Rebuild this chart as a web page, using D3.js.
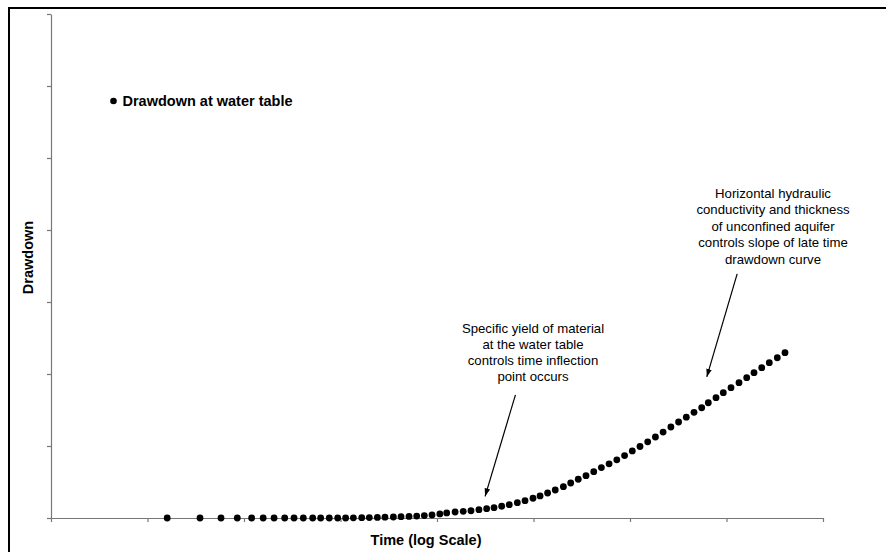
<!DOCTYPE html>
<html>
<head>
<meta charset="utf-8">
<script src="https://cdn.jsdelivr.net/npm/d3@7"></script>
<style>
  html, body { margin: 0; padding: 0; background: #fff; }
  svg { display: block; font-family: "Liberation Sans", Arial, sans-serif; }
</style>
</head>
<body>
<svg id="chart" width="886" height="552"></svg>
<script>
// ---- data ----
const seriesName = "Drawdown at water table";
const time = [16, 35, 57.8, 85.2, 120, 158, 205, 264, 330, 412,
  515, 623, 765, 935, 1130, 1360, 1660, 1990, 2410, 2890,
  3530, 4240, 5130, 6160, 7390, 8880, 10700, 12600, 15400, 18700,
  22500, 27200, 32700, 39000, 46800, 56100, 68000, 81700, 98800, 117000,
  140000, 168000, 204000, 243000, 291000, 350000, 421000, 505000, 607000, 730000,
  879000, 1.056e6, 1.269e6, 1.526e6, 1.834e6, 2.203e6, 2.653e6, 3.188e6, 3.832e6, 4.605e6,
  5.534e6, 6.477e6, 7.785e6, 9.264e6, 1.113e7, 1.348e7, 1.620e7, 1.928e7, 2.317e7, 2.776e7,
  3.360e7, 4.038e7];
const drawdown = [0, 0, 0, 0, 0, 0, 0, 0, 0, 0,
  0, 0, 0, 0, 0, 0.003, 0.004, 0.006, 0.008, 0.011,
  0.014, 0.018, 0.022, 0.027, 0.033, 0.042, 0.056, 0.070, 0.083, 0.093,
  0.101, 0.115, 0.129, 0.143, 0.163, 0.185, 0.213, 0.240, 0.274, 0.306,
  0.347, 0.389, 0.435, 0.486, 0.538, 0.588, 0.643, 0.701, 0.753, 0.808,
  0.867, 0.931, 0.993, 1.058, 1.125, 1.194, 1.264, 1.333, 1.400, 1.468,
  1.531, 1.601, 1.671, 1.740, 1.810, 1.879, 1.949, 2.018, 2.088, 2.157,
  2.226, 2.296];
const xTicks = [1, 10, 100, 1e3, 1e4, 1e5, 1e6, 1e7, 1e8];
const yTicks = [0, 1, 2, 3, 4, 5, 6, 7];
const xTitle = "Time (log Scale)";
const yTitle = "Drawdown";
const note1 = ["Specific yield of material", "at the water table", "controls time inflection", "point occurs"];
const note2 = ["Horizontal hydraulic", "conductivity and thickness", "of unconfined aquifer", "controls slope of late time", "drawdown curve"];
// arrows in data units: start and tip
const arrow1 = { from: [6.5e4, 1.71], to: [3.15e4, 0.30] };
const arrow2 = { from: [1.29e7, 3.39], to: [6.25e6, 1.96] };

// ---- layout ----
const svg = d3.select("#chart");
const m = { left: 51, top: 14, right: 823, bottom: 518 };

svg.append("rect").attr("x", 9).attr("y", 8).attr("width", 1000).attr("height", 1000)
  .attr("fill", "none").attr("stroke", "#000").attr("stroke-width", 2);

const x = d3.scaleLog().domain([1, 1e8]).range([m.left, m.right]);
const y = d3.scaleLinear().domain([0, 7]).range([m.bottom, m.top]);

const axisColor = "#777";
const gx = svg.append("g").attr("transform", `translate(0,${m.bottom})`)
  .call(d3.axisBottom(x).tickValues(xTicks).tickFormat("").tickSizeInner(4).tickSizeOuter(0));
const gy = svg.append("g").attr("transform", `translate(${m.left},0)`)
  .call(d3.axisLeft(y).tickValues(yTicks).tickFormat("").tickSizeInner(4).tickSizeOuter(0));
[gx, gy].forEach(g => {
  g.select(".domain").attr("stroke", axisColor).attr("stroke-width", 1.2);
  g.selectAll(".tick line").attr("stroke", axisColor).attr("stroke-width", 1.2);
});

// axis titles
svg.append("text").attr("x", 426).attr("y", 544.5).attr("text-anchor", "middle")
  .attr("font-size", 14.5).attr("font-weight", "bold").text(xTitle);
svg.append("text").attr("transform", "translate(32.5,257.5) rotate(-90)").attr("text-anchor", "middle")
  .attr("font-size", 14.5).attr("font-weight", "bold").text(yTitle);

// data points
const pts = time.map((t, i) => ({ t, d: drawdown[i] }));
svg.append("g").selectAll("circle").data(pts).join("circle")
  .attr("cx", p => x(p.t)).attr("cy", p => y(p.d)).attr("r", 3.4).attr("fill", "#000");

// legend
svg.append("circle").attr("cx", 113.5).attr("cy", 101).attr("r", 3.3).attr("fill", "#000");
svg.append("text").attr("x", 122.5).attr("y", 106.3).attr("font-size", 14.5).attr("font-weight", "bold").text(seriesName);

// arrows
const defs = svg.append("defs");
defs.append("marker").attr("id", "ah").attr("viewBox", "0 0 10 10").attr("refX", 10).attr("refY", 5)
  .attr("markerWidth", 8).attr("markerHeight", 8).attr("markerUnits", "userSpaceOnUse").attr("orient", "auto")
  .append("path").attr("d", "M0,1.5 L10,5 L0,8.5 Z").attr("fill", "#000");
[arrow1, arrow2].forEach(a => {
  svg.append("line")
    .attr("x1", x(a.from[0])).attr("y1", y(a.from[1]))
    .attr("x2", x(a.to[0])).attr("y2", y(a.to[1]))
    .attr("stroke", "#000").attr("stroke-width", 1.2).attr("marker-end", "url(#ah)");
});

// annotation texts
function note(lines, cx, firstBaseline, lh) {
  const t = svg.append("text").attr("text-anchor", "middle").attr("font-size", 13.2).attr("fill", "#000");
  lines.forEach((s, i) => t.append("tspan").attr("x", cx).attr("y", firstBaseline + i * lh).text(s));
}
note(note1, 533, 332.5, 16);
note(note2, 773, 197.5, 16.5);
</script>
</body>
</html>
